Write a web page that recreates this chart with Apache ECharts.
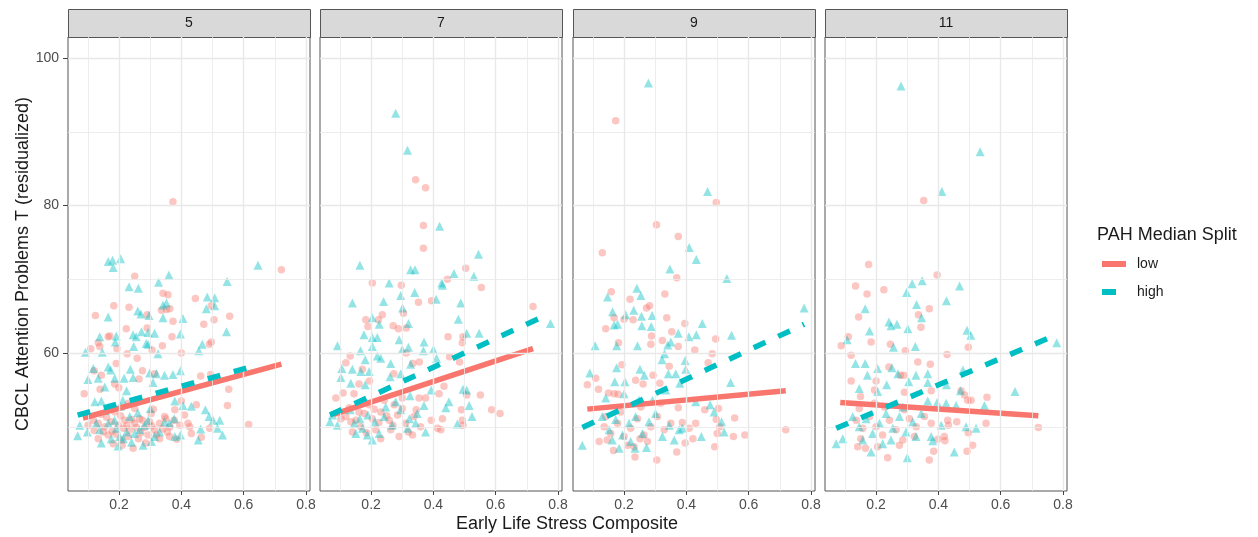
<!DOCTYPE html>
<html>
<head>
<meta charset="utf-8">
<script src="https://cdn.jsdelivr.net/npm/echarts@6/dist/echarts.min.js"></script>
<style>
  html, body { margin: 0; padding: 0; background: #fff; }
  #chart { width: 1258px; height: 537px; }
</style>
</head>
<body>
<div id="chart"></div>
<script>
  // facet labels (age at assessment)
  var panels = ['5', '7', '9', '11']
  var xTicks = [0.2, 0.4, 0.6, 0.8]
  var yTicks = [60, 80, 100]
  var xMinor = [0.1, 0.3, 0.5, 0.7]
  var yMinor = [50, 70, 90]
  var groups = ['low', 'high']

  // age 5: [stress composite, CBCL T]
  var p5Low = [[0.373,80.5],[0.721,71.3],[0.25,70.4],[0.445,67.4],[0.341,68.1],[0.357,67.9],[0.183,66.4],[0.232,66.2],[0.124,65.1],[0.336,65.8],[0.352,65.9],[0.363,66.0],[0.29,65.2],[0.496,66.4],[0.555,65.0],[0.373,64.3],[0.505,64.5],[0.472,63.9],[0.165,62.2],[0.17,62.3],[0.223,63.3],[0.29,63.4],[0.37,62.2],[0.339,61.0],[0.496,61.5],[0.49,61.2],[0.133,61.4],[0.138,60.9],[0.109,60.6],[0.193,60.6],[0.226,59.9],[0.258,59.3],[0.306,60.4],[0.4,60.0],[0.191,58.6],[0.12,57.6],[0.143,57.0],[0.275,57.6],[0.314,57.2],[0.088,54.5],[0.139,55.1],[0.186,55.8],[0.199,55.3],[0.264,56.5],[0.462,56.9],[0.494,57.1],[0.552,55.1],[0.548,52.9],[0.4,53.5],[0.448,53.0],[0.616,50.3],[0.379,52.3],
    [0.1,50.2],[0.133,50.5],[0.154,50.0],[0.175,50.7],[0.197,50.2],[0.218,50.9],[0.234,49.6],[0.25,50.5],[0.266,51.1],[0.282,49.9],[0.298,50.7],[0.314,49.6],[0.33,50.5],[0.346,51.4],[0.363,50.0],[0.377,50.9],[0.395,50.2],[0.421,50.5],[0.432,49.1],[0.464,48.6],[0.491,49.8],[0.245,47.1],[0.133,48.4],[0.165,48.9],[0.208,48.2],[0.285,47.8],[0.33,48.4],[0.362,48.7],[0.117,50.9],[0.186,52.0],[0.25,52.5],[0.303,51.8],[0.35,51.1],[0.214,49.8],[0.149,49.3],[0.293,48.9],[0.229,48.7],[0.427,50.0],[0.181,47.7],[0.262,48.4],
    [0.12,49.5],[0.16,51.3],[0.19,49.0],[0.205,51.5],[0.225,50.2],[0.24,51.0],[0.27,49.2],[0.305,50.1],[0.32,48.9],[0.34,49.7],[0.255,49.9],[0.178,49.4],[0.142,51.7],[0.21,47.5],[0.275,50.9],[0.31,52.4],[0.355,49.3],[0.385,48.3],[0.41,51.6],[0.23,53.2]]
  var p5High = [[0.646,71.9],[0.165,72.4],[0.179,72.6],[0.205,72.8],[0.181,71.6],[0.36,70.6],[0.327,69.6],[0.547,69.7],[0.232,69.0],[0.262,68.8],[0.483,67.6],[0.507,67.5],[0.352,66.8],[0.341,66.5],[0.507,66.4],[0.48,66.0],[0.26,65.7],[0.27,65.3],[0.165,64.9],[0.296,65.1],[0.341,64.8],[0.405,64.7],[0.138,62.2],[0.191,62.3],[0.245,62.5],[0.255,62.2],[0.272,62.9],[0.293,62.8],[0.314,62.7],[0.188,61.5],[0.287,61.3],[0.397,62.6],[0.545,62.9],[0.092,60.1],[0.146,60.1],[0.247,60.9],[0.293,61.2],[0.325,59.9],[0.467,61.2],[0.456,60.3],[0.117,57.9],[0.165,58.1],[0.173,57.7],[0.236,57.8],[0.133,56.6],[0.186,56.6],[0.216,56.6],[0.245,56.7],[0.298,57.3],[0.32,57.2],[0.346,57.0],[0.373,57.1],[0.397,57.6],[0.309,56.0],[0.1,56.4],[0.154,55.4],[0.224,54.9],[0.122,53.4],[0.143,53.5],[0.212,53.6],[0.379,53.5],[0.405,52.9],[0.432,52.8],[0.477,52.3],[0.489,51.4],[0.523,50.9],[0.502,50.9],[0.074,50.2],[0.067,48.8],[0.098,49.3],[0.143,47.8],[0.197,47.4],[0.202,48.7],[0.304,48.0],[0.277,47.5],[0.379,48.7],[0.397,48.9],[0.454,48.2],[0.462,49.7],[0.516,49.8],[0.532,48.9],[0.377,51.1],[0.346,50.7],
    [0.165,50.5],[0.191,49.8],[0.224,49.3],[0.25,49.1],[0.282,50.2],[0.314,48.7],[0.186,50.9],[0.234,51.4],[0.266,49.6],[0.127,50.5],[0.214,48.4],[0.293,50.9],[0.33,49.3],[0.362,50.5],[0.175,48.4],[0.138,49.6],[0.155,52.2],[0.205,52.8],[0.26,51.9],[0.3,52.5],[0.24,47.9]]

  // age 7
  var p7Low = [[0.343,83.5],[0.375,82.4],[0.368,77.3],[0.368,74.2],[0.504,71.5],[0.204,69.5],[0.297,69.2],[0.445,70.0],[0.554,68.9],[0.352,66.9],[0.394,67.1],[0.236,65.2],[0.304,65.4],[0.183,64.5],[0.224,64.5],[0.271,63.7],[0.288,63.3],[0.313,63.4],[0.19,63.6],[0.447,62.2],[0.495,62.2],[0.493,61.4],[0.72,66.3],[0.133,59.6],[0.119,58.7],[0.172,57.8],[0.195,56.2],[0.161,55.8],[0.273,57.2],[0.334,58.6],[0.355,58.8],[0.313,60.0],[0.452,59.5],[0.484,58.8],[0.434,55.5],[0.418,54.5],[0.354,53.9],[0.375,53.9],[0.145,54.5],[0.11,54.6],[0.087,53.9],[0.507,54.3],[0.551,54.3],[0.587,52.3],[0.614,51.8],[0.49,52.3],[0.493,50.9],[0.495,50.2],[0.424,49.6],[0.413,49.8],[0.393,50.9],[0.429,51.1],[0.29,48.7],[0.333,48.9],[0.231,48.4],[0.14,49.3],
    [0.119,51.4],[0.151,50.9],[0.178,51.8],[0.204,51.1],[0.231,52.0],[0.258,50.9],[0.285,51.6],[0.311,50.5],[0.338,51.4],[0.359,50.0],[0.167,50.0],[0.215,49.6],[0.263,49.6],[0.3,52.5],[0.242,53.6],[0.194,53.0],[0.161,52.0],[0.135,50.7],[0.274,53.0],[0.103,51.1],[0.3,53.9],[0.185,49.2],[0.25,51.5],[0.32,49.3],[0.21,52.4],[0.13,52.6],[0.345,52.3],[0.27,50.2],[0.225,50.6]]
  var p7High = [[0.279,92.5],[0.317,87.5],[0.42,77.2],[0.545,73.4],[0.164,71.9],[0.327,71.3],[0.341,71.3],[0.466,70.8],[0.53,70.4],[0.429,69.2],[0.427,69.5],[0.258,69.5],[0.34,68.2],[0.295,67.8],[0.409,67.3],[0.14,66.8],[0.24,67.0],[0.488,66.8],[0.301,66.1],[0.204,64.8],[0.226,63.9],[0.32,64.0],[0.48,64.6],[0.177,62.5],[0.204,62.1],[0.22,62.1],[0.507,62.7],[0.547,62.7],[0.776,64.0],[0.092,61.0],[0.166,60.3],[0.204,60.9],[0.29,61.8],[0.37,61.5],[0.32,60.8],[0.3,60.5],[0.4,60.5],[0.368,60.3],[0.22,59.6],[0.231,59.3],[0.181,59.1],[0.106,57.9],[0.14,57.8],[0.167,57.5],[0.194,57.5],[0.263,58.6],[0.327,58.5],[0.41,59.3],[0.103,56.7],[0.135,55.9],[0.181,55.7],[0.261,56.8],[0.295,57.2],[0.393,55.0],[0.495,55.1],[0.507,55.0],[0.325,54.2],[0.45,53.4],[0.44,52.6],[0.515,52.9],[0.524,51.4],[0.477,50.4],[0.375,49.3],[0.076,51.6],[0.068,50.7],[0.092,50.2],[0.204,48.2],[0.188,48.9],[0.151,49.1],
    [0.133,52.3],[0.164,51.1],[0.19,51.6],[0.212,50.7],[0.242,51.4],[0.268,50.2],[0.295,52.3],[0.323,51.1],[0.348,51.8],[0.37,52.9],[0.247,52.7],[0.279,53.4],[0.172,49.8],[0.226,49.1],[0.317,49.8],[0.146,50.5],[0.343,50.5]]

  // age 9
  var p9Low = [[0.173,91.5],[0.496,80.4],[0.304,77.4],[0.374,75.8],[0.13,73.6],[0.369,70.2],[0.159,68.3],[0.219,67.3],[0.331,68.0],[0.272,66.1],[0.282,66.4],[0.168,64.8],[0.2,64.6],[0.229,64.5],[0.337,64.8],[0.141,63.3],[0.288,62.3],[0.353,62.9],[0.395,64.0],[0.182,61.4],[0.286,61.2],[0.323,61.7],[0.374,60.9],[0.427,60.4],[0.494,61.9],[0.483,59.9],[0.47,58.7],[0.193,58.4],[0.109,56.6],[0.082,55.7],[0.118,55.1],[0.237,56.3],[0.293,57.0],[0.315,55.9],[0.345,58.2],[0.15,54.6],[0.168,54.5],[0.181,54.4],[0.261,55.8],[0.374,52.6],[0.459,52.3],[0.503,52.5],[0.555,51.2],[0.496,51.0],[0.507,50.0],[0.499,49.1],[0.43,50.5],[0.409,49.8],[0.387,50.6],[0.551,48.7],[0.588,48.9],[0.719,49.6],[0.421,48.4],[0.396,47.8],[0.491,47.3],[0.369,46.6],[0.305,45.5],[0.235,45.9],[0.166,46.8],[0.12,48.0],
    [0.136,50.0],[0.157,49.1],[0.179,50.5],[0.2,48.7],[0.221,49.8],[0.243,51.1],[0.264,48.9],[0.286,50.0],[0.307,51.4],[0.329,49.6],[0.35,50.5],[0.146,48.2],[0.211,47.5],[0.275,48.0],[0.189,52.0],[0.254,52.7],[0.318,53.2],[0.141,51.4],[0.232,47.3],[0.251,48.4]]
  var p9High = [[0.278,96.6],[0.468,81.9],[0.409,74.3],[0.432,72.7],[0.347,71.4],[0.53,70.1],[0.241,68.8],[0.147,67.6],[0.254,67.8],[0.163,65.6],[0.231,65.8],[0.256,65.0],[0.29,65.1],[0.205,65.2],[0.168,63.8],[0.179,63.9],[0.257,63.7],[0.287,63.6],[0.451,64.0],[0.778,66.1],[0.545,62.4],[0.432,62.5],[0.408,62.2],[0.107,61.0],[0.176,61.0],[0.243,61.0],[0.34,61.1],[0.374,62.7],[0.35,61.5],[0.33,59.9],[0.322,59.1],[0.09,57.3],[0.176,58.0],[0.251,57.8],[0.265,57.0],[0.396,59.0],[0.398,57.8],[0.342,57.2],[0.366,57.2],[0.379,55.9],[0.17,56.1],[0.203,56.1],[0.542,56.0],[0.141,53.9],[0.2,54.5],[0.43,53.4],[0.476,53.0],[0.489,52.0],[0.513,50.7],[0.521,49.3],[0.448,48.7],[0.066,47.5],[0.361,48.2],[0.377,49.6],[0.184,47.1],[0.235,47.1],[0.272,47.2],
    [0.13,51.4],[0.152,49.6],[0.173,51.0],[0.195,48.9],[0.216,50.5],[0.237,51.4],[0.259,49.1],[0.28,50.7],[0.301,51.8],[0.323,48.7],[0.345,50.2],[0.387,49.8],[0.162,48.2],[0.221,48.0],[0.291,53.6],[0.334,55.0],[0.248,53.6]]

  // age 11
  var p11Low = [[0.353,80.7],[0.176,72.0],[0.396,70.6],[0.134,69.1],[0.225,68.6],[0.171,68.0],[0.144,64.9],[0.371,66.0],[0.336,65.2],[0.344,63.5],[0.111,62.2],[0.088,61.0],[0.184,61.5],[0.246,61.2],[0.294,60.3],[0.496,60.8],[0.428,59.8],[0.12,59.7],[0.334,58.8],[0.374,58.5],[0.241,58.1],[0.12,56.2],[0.2,56.2],[0.278,57.0],[0.289,57.0],[0.195,55.0],[0.291,54.7],[0.377,54.9],[0.473,54.9],[0.484,54.3],[0.494,53.6],[0.505,53.6],[0.556,54.0],[0.15,54.1],[0.553,50.5],[0.43,50.9],[0.432,50.2],[0.459,50.7],[0.496,49.2],[0.419,48.7],[0.421,48.1],[0.398,48.3],[0.51,47.5],[0.492,46.7],[0.385,46.7],[0.371,45.5],[0.237,45.8],[0.721,49.9],[0.141,47.3],[0.166,47.1],
    [0.136,50.9],[0.157,49.8],[0.179,51.4],[0.2,50.0],[0.221,48.9],[0.243,50.9],[0.264,49.6],[0.286,48.2],[0.307,51.1],[0.329,50.0],[0.355,51.4],[0.377,50.5],[0.205,47.3],[0.275,47.5],[0.151,48.4],[0.227,52.7],[0.291,52.3],[0.195,53.2],[0.146,52.5],[0.323,48.7]]
  var p11High = [[0.28,96.2],[0.534,87.3],[0.411,81.9],[0.316,69.4],[0.348,69.8],[0.468,69.1],[0.298,68.2],[0.426,67.1],[0.33,66.6],[0.165,66.0],[0.346,64.8],[0.241,64.2],[0.248,63.7],[0.267,63.9],[0.302,63.3],[0.179,63.0],[0.492,63.1],[0.504,62.4],[0.107,61.8],[0.256,60.8],[0.326,60.9],[0.78,61.4],[0.134,58.6],[0.165,58.6],[0.205,57.9],[0.251,58.0],[0.366,57.2],[0.479,57.7],[0.172,57.0],[0.27,57.2],[0.328,57.0],[0.234,55.7],[0.146,55.2],[0.205,54.8],[0.305,56.1],[0.366,56.0],[0.426,55.7],[0.471,54.9],[0.646,54.8],[0.548,52.9],[0.366,53.5],[0.396,53.3],[0.425,53.2],[0.457,52.9],[0.521,49.8],[0.489,50.0],[0.409,50.2],[0.093,48.4],[0.072,47.7],[0.184,46.6],[0.3,45.8],[0.451,46.6],[0.377,48.7],[0.382,48.1],[0.328,48.7],
    [0.125,51.4],[0.146,50.0],[0.168,51.1],[0.189,49.1],[0.211,50.5],[0.232,51.8],[0.254,49.8],[0.275,51.4],[0.296,49.3],[0.318,50.7],[0.345,51.8],[0.157,48.2],[0.221,47.7],[0.286,52.7],[0.248,48.2]]

  // fitted lm lines, read at their two ends
  var fit5Low = [[0.084,51.2],[0.721,58.5]]
  var fit5High = [[0.067,51.6],[0.646,58.4]]
  var fit7Low = [[0.08,51.7],[0.72,60.6]]
  var fit7High = [[0.068,51.6],[0.776,65.4]]
  var fit9Low = [[0.082,52.4],[0.719,54.9]]
  var fit9High = [[0.066,49.9],[0.778,63.9]]
  var fit11Low = [[0.085,53.3],[0.721,51.5]]
  var fit11High = [[0.072,49.8],[0.78,62.5]]

  var lowPts = [p5Low, p7Low, p9Low, p11Low]
  var highPts = [p5High, p7High, p9High, p11High]
  var lowFit = [fit5Low, fit7Low, fit9Low, fit11Low]
  var highFit = [fit5High, fit7High, fit9High, fit11High]

  var RED = '#F8766D'
  var TEAL = '#00BFC4'
  var FONT = '"Liberation Sans", Arial, sans-serif'

  var panelLeft = [68, 320, 573, 825]
  var panelW = 242
  var panelTop = 37
  var panelH = 454

  var grids = [], xAxes = [], yAxes = [], series = [], graphics = []

  panels.forEach(function (p, i) {
    grids.push({
      left: panelLeft[i], top: panelTop, width: panelW, height: panelH,
      show: true, borderColor: '#555', borderWidth: 1, backgroundColor: '#fff'
    })
    xAxes.push({
      gridIndex: i, type: 'value', min: 0.036, max: 0.813,
      axisLine: { show: false },
      splitLine: { show: false },
      axisTick: { show: true, customValues: xTicks, length: 4, lineStyle: { color: '#444' } },
      axisLabel: {
        customValues: xTicks, color: '#4d4d4d', fontSize: 14, fontFamily: FONT, margin: 7,
        formatter: function (v) { return v.toFixed(1) }
      }
    })
    yAxes.push({
      gridIndex: i, type: 'value', min: 41.3, max: 102.85,
      axisLine: { show: false },
      splitLine: { show: false },
      axisTick: { show: i === 0, customValues: yTicks, length: 5, lineStyle: { color: '#444' } },
      axisLabel: { show: i === 0, customValues: yTicks, color: '#4d4d4d', fontSize: 14, fontFamily: FONT, margin: 9 },
      name: i === 0 ? 'CBCL Attention Problems T (residualized)' : '',
      nameLocation: 'middle', nameGap: 36, nameRotate: 90,
      nameTextStyle: { fontSize: 18, color: '#1a1a1a', fontFamily: FONT }
    })

    // grid lines (major + minor), drawn through the axes
    var ml = []
    xMinor.forEach(function (v) { ml.push({ xAxis: v, lineStyle: { width: 0.8 } }) })
    yMinor.forEach(function (v) { ml.push({ yAxis: v, lineStyle: { width: 0.8 } }) })
    xTicks.forEach(function (v) { ml.push({ xAxis: v, lineStyle: { width: 1.4 } }) })
    yTicks.forEach(function (v) { ml.push({ yAxis: v, lineStyle: { width: 1.4 } }) })
    series.push({
      type: 'line', xAxisIndex: i, yAxisIndex: i, data: [], z: 0, silent: true,
      markLine: {
        silent: true, symbol: 'none', animation: false, label: { show: false },
        lineStyle: { color: '#e8e8e8', type: 'solid' },
        data: ml
      }
    })

    series.push({
      name: 'low', type: 'scatter', xAxisIndex: i, yAxisIndex: i, data: lowPts[i],
      symbol: 'circle', symbolSize: 7.5, z: 2,
      itemStyle: { color: RED, opacity: 0.42 }
    })
    series.push({
      name: 'high', type: 'scatter', xAxisIndex: i, yAxisIndex: i, data: highPts[i],
      symbol: 'triangle', symbolSize: 9, z: 2,
      itemStyle: { color: TEAL, opacity: 0.42 }
    })
    series.push({
      name: 'low', type: 'line', xAxisIndex: i, yAxisIndex: i, data: lowFit[i],
      symbol: 'none', z: 4, silent: true,
      lineStyle: { color: RED, width: 5.5, cap: 'butt' }
    })
    series.push({
      name: 'high', type: 'line', xAxisIndex: i, yAxisIndex: i, data: highFit[i],
      symbol: 'none', z: 5, silent: true,
      lineStyle: { color: TEAL, width: 5.5, type: [13, 14], cap: 'butt' }
    })

    // facet strip
    graphics.push({
      type: 'rect', left: panelLeft[i], top: 9,
      shape: { width: panelW, height: panelTop - 9 },
      style: { fill: '#d9d9d9', stroke: '#555', lineWidth: 1 }
    })
    graphics.push({
      type: 'text', x: panelLeft[i] + panelW / 2, y: (9 + panelTop) / 2,
      style: { text: p, font: '14px ' + FONT, fill: '#1a1a1a', textAlign: 'center', textVerticalAlign: 'middle' }
    })
  })

  graphics.push({
    type: 'text', x: 567, y: 524,
    style: { text: 'Early Life Stress Composite', font: '18px ' + FONT, fill: '#1a1a1a', textAlign: 'center', textVerticalAlign: 'middle' }
  })

  var option = {
    animation: false,
    backgroundColor: '#fff',
    title: {
      text: 'PAH Median Split', left: 1092, top: 221,
      textStyle: { fontSize: 18, fontWeight: 'normal', color: '#1a1a1a', fontFamily: FONT }
    },
    legend: {
      orient: 'vertical', left: 1097, top: 252, itemGap: 14,
      itemWidth: 24, itemHeight: 6, selectedMode: false,
      textStyle: { fontSize: 14, color: '#1a1a1a', fontFamily: FONT, padding: [0, 0, 0, 6] },
      data: [
        { name: groups[0], icon: 'rect', itemStyle: { color: RED, opacity: 1 } },
        { name: groups[1], icon: 'path://M0,0H14V6H0Z M23.95,2.95H24V3.05H23.95Z', itemStyle: { color: TEAL, opacity: 1 } }
      ]
    },
    grid: grids,
    xAxis: xAxes,
    yAxis: yAxes,
    series: series,
    graphic: graphics
  }

  var myChart = echarts.init(document.getElementById('chart'))
  myChart.setOption(option)
</script>
</body>
</html>
